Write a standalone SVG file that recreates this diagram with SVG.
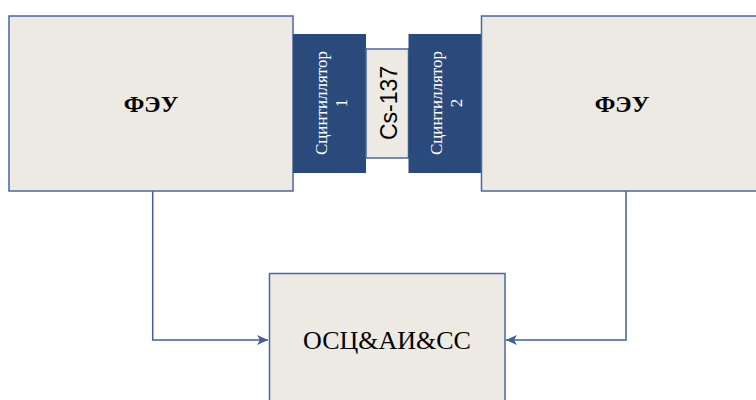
<svg xmlns="http://www.w3.org/2000/svg" width="756" height="400" viewBox="0 0 756 400">
<defs>
<style>
.box{fill:#ECEAE3;stroke:#4A67A0;stroke-width:1.5}
.dark{fill:#2B4A7C}
.lbl{font-family:"Liberation Serif","DejaVu Serif",serif;fill:#000;text-anchor:middle}
.sc{font-family:"Liberation Serif","DejaVu Serif",serif;fill:#fff;font-size:17px;text-anchor:middle}
.cs{font-family:"Liberation Sans","DejaVu Sans",sans-serif;fill:#000;font-size:23px;text-anchor:middle}
.wire{fill:none;stroke:#3F5F96;stroke-width:1.5}
</style>
<marker id="arr" markerWidth="12" markerHeight="10" refX="11" refY="5" orient="auto" markerUnits="userSpaceOnUse">
<path d="M0,0 L11,5 L0,10 L3,5 Z" fill="#3F5F96"/>
</marker>
</defs>
<rect width="756" height="400" fill="#fff"/>
<g id="connectors">
<path class="wire" d="M152.7,191 V340 H268" marker-end="url(#arr)"/>
<path class="wire" d="M626,191 V340 H506" marker-end="url(#arr)"/>
</g>
<g id="feu1">
<rect class="box" x="9" y="16" width="284" height="175"/>
<text class="lbl" x="151" y="112" font-size="24" font-weight="bold">ФЭУ</text>
</g>
<g id="scint1">
<rect class="dark" x="293" y="34" width="73" height="139"/>
<text class="sc" transform="translate(329.5,103) rotate(-90)"><tspan x="0" y="-3">Сцинтиллятор</tspan><tspan x="0" y="17">1</tspan></text>
</g>
<g id="cs137">
<rect class="box" x="366" y="49" width="42.5" height="109" stroke-width="1"/>
<text class="cs" transform="translate(396.5,103) rotate(-90)" x="0" y="0">Cs-137</text>
</g>
<g id="scint2">
<rect class="dark" x="408.5" y="34" width="73" height="139"/>
<text class="sc" transform="translate(445,103) rotate(-90)"><tspan x="0" y="-3">Сцинтиллятор</tspan><tspan x="0" y="17">2</tspan></text>
</g>
<g id="feu2">
<rect class="box" x="481.5" y="16" width="290" height="175"/>
<text class="lbl" x="622" y="112" font-size="24" font-weight="bold">ФЭУ</text>
</g>
<g id="osc">
<rect class="box" x="269.5" y="273.5" width="235.5" height="140"/>
<text class="lbl" x="387" y="349" font-size="26">ОСЦ&amp;АИ&amp;СС</text>
</g>
</svg>
